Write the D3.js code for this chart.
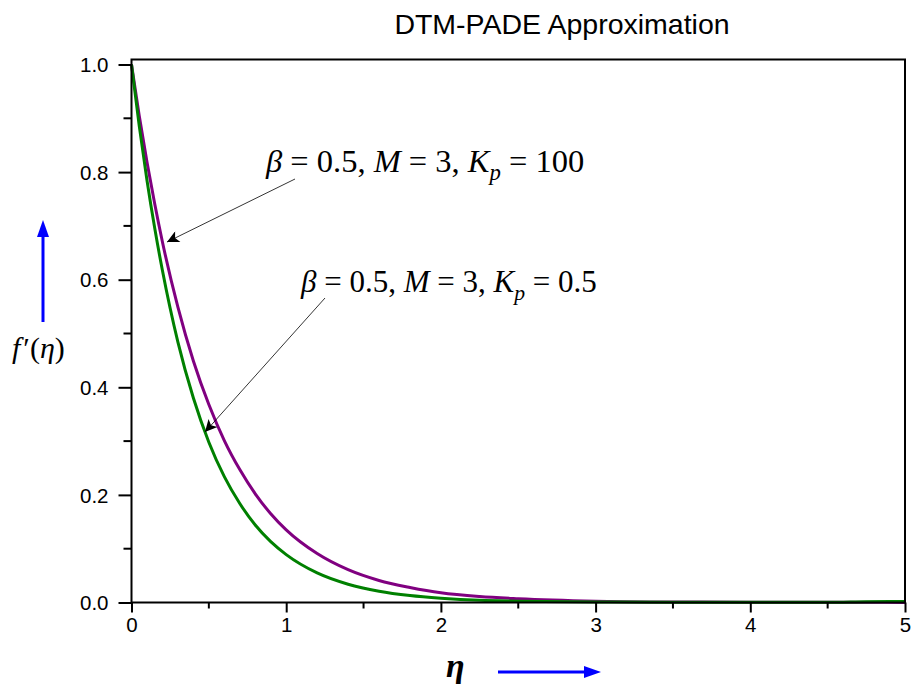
<!DOCTYPE html>
<html>
<head>
<meta charset="utf-8">
<script src="https://cdn.jsdelivr.net/npm/d3@7"></script>
<style>
  html, body { margin: 0; padding: 0; background: #fff; }
  svg { display: block; }
</style>
</head>
<body>
<svg id="chart" width="912" height="684"></svg>
<script>
// ---------- data ----------
const eta = [0, 0.05, 0.1, 0.15, 0.2, 0.3, 0.4, 0.5, 0.6, 0.7, 0.8, 0.9, 1.0, 1.2, 1.4, 1.6, 1.8, 2.0, 2.25, 2.5, 3.0, 3.5, 4.0, 4.5, 4.75, 5.0];
const fKp05 = [1.000, 0.886, 0.785, 0.696, 0.617, 0.484, 0.380, 0.298, 0.234, 0.184, 0.144, 0.113, 0.089, 0.055, 0.034, 0.021, 0.013, 0.008, 0.004, 0.0025, 0.001, 0.0005, 0.0003, 0.0003, 0.0015, 0.002];
const fKp100 = [1.000, 0.905, 0.819, 0.741, 0.670, 0.549, 0.449, 0.368, 0.301, 0.247, 0.202, 0.165, 0.135, 0.091, 0.061, 0.041, 0.028, 0.018, 0.011, 0.007, 0.0025, 0.001, 0.0005, 0.0003, 0.0003, 0.0002];
const xTicks = [0, 1, 2, 3, 4, 5];
const yTicks = [0.0, 0.2, 0.4, 0.6, 0.8, 1.0];
const titleText = "DTM-PADE Approximation";

// ---------- layout ----------
const svg = d3.select("#chart");
const L = 131.5, R = 905, T = 59.5, B = 602.5;
const x = d3.scaleLinear().domain([0, 5]).range([L, R]);
const y = d3.scaleLinear().domain([0, 1]).range([B, 64.5]);

// defs
const defs = svg.append("defs");
defs.append("marker").attr("id", "blackHead").attr("viewBox", "0 0 10 10")
  .attr("refX", 10).attr("refY", 5).attr("markerWidth", 16).attr("markerHeight", 12)
  .attr("markerUnits", "userSpaceOnUse").attr("orient", "auto")
  .append("path").attr("d", "M0,0 L10,5 L0,10 L2.5,5 Z").attr("fill", "#000");

// curves
const line = d3.line().x(d => x(d[0])).y(d => y(d[1])).curve(d3.curveMonotoneX);
svg.append("path").datum(eta.map((e, i) => [e, fKp100[i]]))
  .attr("d", line).attr("fill", "none").attr("stroke", "#800080").attr("stroke-width", 3);
svg.append("path").datum(eta.map((e, i) => [e, fKp05[i]]))
  .attr("d", line).attr("fill", "none").attr("stroke", "#008000").attr("stroke-width", 3);

// frame
svg.append("rect").attr("x", L).attr("y", T).attr("width", R - L).attr("height", B - T)
  .attr("fill", "none").attr("stroke", "#000").attr("stroke-width", 2);

// axes
const xAxis = d3.axisBottom(x).tickValues(xTicks).tickFormat(d3.format("d")).tickSize(10).tickPadding(5);
const gx = svg.append("g").attr("transform", `translate(0,${B})`).call(xAxis);
const xMinor = d3.range(0.5, 5, 1);
gx.selectAll(".minor").data(xMinor).enter().append("line").attr("class", "minor")
  .attr("x1", d => x(d)).attr("x2", d => x(d)).attr("y1", 0).attr("y2", 6)
  .attr("stroke", "#000").attr("stroke-width", 2);

const yAxis = d3.axisLeft(y).tickValues(yTicks).tickFormat(d3.format(".1f")).tickSize(13).tickPadding(10);
const gy = svg.append("g").attr("transform", `translate(${L},0)`).call(yAxis);
const yMinor = d3.range(0.1, 1, 0.2);
gy.selectAll(".minor").data(yMinor).enter().append("line").attr("class", "minor")
  .attr("y1", d => y(d)).attr("y2", d => y(d)).attr("x1", 0).attr("x2", -8)
  .attr("stroke", "#000").attr("stroke-width", 2);

[gx, gy].forEach(g => {
  g.select(".domain").remove();
  g.selectAll(".tick line").attr("stroke", "#000").attr("stroke-width", 2);
  g.selectAll(".tick text").attr("fill", "#000")
    .style("font-family", "'Liberation Sans', Arial, sans-serif").style("font-size", "20.5px");
});
gy.selectAll(".tick text").attr("dy", "0.35em");

// title
svg.append("text").attr("x", 562).attr("y", 34).attr("text-anchor", "middle")
  .style("font-family", "'Liberation Sans', Arial, sans-serif").style("font-size", "28.5px")
  .attr("fill", "#000").text(titleText);

// annotations
function annot(xp, yp, val, fs) {
  const t = svg.append("text").attr("x", xp).attr("y", yp)
    .style("font-family", "'Liberation Serif', 'Times New Roman', serif").style("font-size", fs + "px").attr("fill", "#000");
  t.append("tspan").style("font-style", "italic").text("β");
  t.append("tspan").text(" = 0.5, ");
  t.append("tspan").style("font-style", "italic").text("M");
  t.append("tspan").text(" = 3, ");
  t.append("tspan").style("font-style", "italic").text("K");
  t.append("tspan").style("font-style", "italic").style("font-size", (fs * 0.7) + "px").attr("dy", 8).text("p");
  t.append("tspan").attr("dy", -8).text(" = " + val);
  return t;
}
annot(266, 172, "100", 32.5);
annot(301, 292, "0.5", 31);

svg.append("line").attr("x1", 295).attr("y1", 179).attr("x2", 167).attr("y2", 242)
  .attr("stroke", "#000").attr("stroke-width", 0.8).attr("marker-end", "url(#blackHead)");
svg.append("line").attr("x1", 325).attr("y1", 298).attr("x2", 205).attr("y2", 432)
  .attr("stroke", "#000").attr("stroke-width", 0.8).attr("marker-end", "url(#blackHead)");

// axis labels
const yl = svg.append("text").attr("x", 12).attr("y", 358)
  .style("font-family", "'Liberation Serif', 'Times New Roman', serif").style("font-size", "30px").attr("fill", "#000");
yl.append("tspan").style("font-style", "italic").text("f");
yl.append("tspan").attr("dx", 3).text("′(");
yl.append("tspan").style("font-style", "italic").text("η");
yl.append("tspan").text(")");

svg.append("text").attr("x", 446).attr("y", 677)
  .style("font-family", "'Liberation Serif', 'Times New Roman', serif").style("font-size", "34px")
  .style("font-style", "italic").style("font-weight", "bold").attr("fill", "#000").text("η");

// blue arrows
svg.append("line").attr("x1", 43).attr("y1", 322).attr("x2", 43).attr("y2", 236)
  .attr("stroke", "#0000ff").attr("stroke-width", 3);
svg.append("path").attr("d", "M43,220 L37,237 L49,237 Z").attr("fill", "#0000ff");
svg.append("line").attr("x1", 498).attr("y1", 672).attr("x2", 585).attr("y2", 672)
  .attr("stroke", "#0000ff").attr("stroke-width", 3);
svg.append("path").attr("d", "M601,672 L584,666 L584,678 Z").attr("fill", "#0000ff");
</script>
</body>
</html>
